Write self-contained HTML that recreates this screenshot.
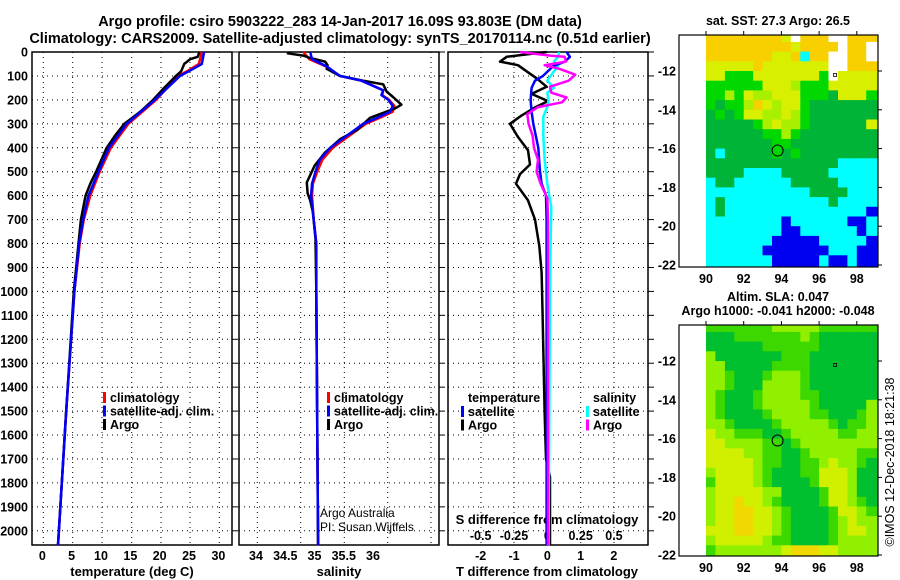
<!DOCTYPE html>
<html><head><meta charset="utf-8">
<style>
html,body{margin:0;padding:0;background:#fff;}
svg{display:block;font-family:"Liberation Sans",Arial,sans-serif;}
.b{font-weight:bold;}
</style></head>
<body>
<svg id="chart" width="900" height="580" viewBox="0 0 900 580" xmlns="http://www.w3.org/2000/svg">
<text class="b" x="340" y="26" font-size="14.5" text-anchor="middle">Argo profile: csiro 5903222_283 14-Jan-2017 16.09S 93.803E (DM data)</text>
<text class="b" x="340" y="43" font-size="14.5" text-anchor="middle">Climatology: CARS2009. Satellite-adjusted climatology: synTS_20170114.nc (0.51d earlier)</text>
<g id="g"></g>
</svg>
<script>
// ---------- data ----------
const depthTicks=[0,100,200,300,400,500,600,700,800,900,1000,1100,1200,1300,1400,1500,1600,1700,1800,1900,2000];
const tempTicks=[0,5,10,15,20,25,30];
const salTicks=[34,34.5,35,35.5,36];
const tdiffTicks=[-2,-1,0,1,2];
const sdiffTicks=[-0.5,-0.25,0,0.25,0.5];
const sdiffTickLabels=["-0.5","-0.25","0","0.25","0.5"];
const lonTicks=[90,92,94,96,98];
const latTicks=[-12,-14,-16,-18,-20,-22];

const tArgoDepth=[0,20,30,50,80,100,150,200,250,300,350,400,450,500,550,600,700,800,900,1000,1500,2060];
const tArgo=[26.6,26.3,25.0,24.0,23.5,22.6,20.6,18.7,16.5,13.8,12.2,10.8,9.9,9.0,8.0,7.2,6.4,6.0,5.6,5.2,3.9,2.5];
const tClimDepth=[0,50,80,100,200,300,400,500,600,700,800,1000,1500,2060];
const tClim=[27.0,26.5,24.5,23.0,19.2,14.5,11.5,9.6,8.0,6.9,6.2,5.3,3.9,2.5];
const tSat=[27.4,27.0,24.8,23.3,19.0,14.2,11.2,9.4,7.7,6.8,6.1,5.3,3.9,2.5];

const sArgoDepth=[5,15,25,40,55,70,100,120,135,165,190,220,235,275,325,365,420,475,545,590,620,670,780,1000,2060];
const sArgo=[34.34,34.53,34.61,34.78,34.81,34.80,34.95,35.22,35.45,35.49,35.57,35.66,35.59,35.30,35.15,34.95,34.78,34.66,34.57,34.58,34.61,34.64,34.67,34.68,34.70];
const sClimDepth=[0,30,60,100,120,160,180,200,225,250,275,300,350,400,450,500,550,600,700,800,1000,2060];
const sSat=[34.61,34.63,34.80,34.95,35.20,35.45,35.43,35.51,35.56,35.53,35.38,35.22,35.03,34.84,34.72,34.67,34.63,34.62,34.65,34.68,34.68,34.70];
const sClim=[34.53,34.60,34.79,34.95,35.20,35.45,35.44,35.52,35.58,35.56,35.41,35.25,35.06,34.87,34.75,34.69,34.64,34.63,34.65,34.68,34.68,34.70];

const dTArgoDepth=[0,20,40,55,85,110,145,175,205,230,265,300,355,410,470,510,550,620,700,810,920,1100,1500,1700,1775,1985,2060];
const dTArgo=[-0.02,-1.22,-1.42,-0.88,-0.58,-0.32,-0.02,-0.47,0.02,-0.35,-0.77,-1.12,-0.88,-0.58,-0.52,-0.82,-0.94,-0.58,-0.37,-0.24,-0.17,-0.14,-0.08,-0.04,0.08,0.08,0.08];
const dTSatDepth=[0,20,40,60,100,120,150,200,250,300,400,500,550,600,700,1000,2060];
const dTSat=[0.58,0.68,0.53,0.17,-0.13,-0.37,-0.47,-0.5,-0.47,-0.42,-0.27,-0.22,-0.17,-0.04,-0.02,-0.02,-0.02];
const dSArgoDepth=[0,15,20,40,55,70,95,120,145,170,190,210,230,260,300,350,400,450,500,550,610,700,2060];
const dSArgo=[-0.205,0.02,0.13,0.14,-0.02,0.09,0.21,0.16,0.02,0.03,0.145,0.11,-0.07,-0.15,-0.14,-0.11,-0.10,-0.07,-0.08,-0.05,0.0,0.005,0.005];
const dSSatDepth=[0,20,40,60,80,120,150,170,200,230,270,350,450,550,650,800,1000,2060];
const dSSat=[0.09,0.08,0.05,0.08,0.05,0.0,0.05,0.0,0.01,0.0,-0.03,-0.03,-0.02,0.0,0.03,0.025,0.02,0.01];

const sstRows=[
"YYYYYYYYywYYYwwYYY","YYYYYYYYYyYYYYwYYw","YYYYYYYyyYcYYwwYYw","yyyyyYyyyyyyywwYYY",
"yygggyyyyyyygwyyyy","ggggggyyylgggyyyyy","gglgyllyyygggGyyyg","gGgglYylyygGGGGGGG",
"GgGgyyllylgGGGGGGG","GGGGGglyllgGGGGGGy","GGGGGGgglgGGGGGGGG","GGGGGGGggGGGGGGGGG",
"GcGGGGGgGgGGGGGGGG","GGGGGGGGGGGGGGcccc","GGGGccccGGGGGccccc","cGGccccccGGGGGcccc",
"cccccccccccGGGGccc","cGcccccccccccGcccc","cGcccccccccccccccb","ccccccccbccccccbbc",
"ccccccccbbccccccbc","cccccccbbbbbcccccb","ccccccbbbbbbbcccbb","cccccccbbbbbcbbcbb"];
const slaRows=[
"ggggggglllllgggggg","GGGggggggglgGGGGGG","GGGGGGggggggGGGGGG","lGGGGGGGgggGGGGGGG",
"llGGGGGggggGGGGGGG","llgGGGglllgGGGGGGG","llgGGGllllgGGGGGGG","lgGGGgllllggGGGGGG",
"lgGGGglllllgGGGGGl","lgGGGGgllllggGGGgl","llgGGGGglllllgGggl","yllgggGGglllllggll",
"yyllllggGgllllllll","yyyyllggGGglllllgg","yyyyylggGGgglyllgG","lyyyylgGGGggyyylGG",
"gyyyylgGGGGgyyylGG","lyyyyyllGGGGgyylGG","lyyoyylgGGGGgyylgG","lyyooyylgGGGGgyylg",
"lyyooyylgGGGGglyll","yyyooyylgGGGGglyyl","lyyyyylggGGGGgllll","glllllllyoooyyllll"];
const floatLon=93.8, floatLat=-16.1;

// ---------- helpers ----------
const NS="http://www.w3.org/2000/svg";
const G=document.getElementById('g');
function mk(tag,attrs,txt){const e=document.createElementNS(NS,tag);for(const k in attrs)e.setAttribute(k,attrs[k]);if(txt!==undefined)e.textContent=txt;G.appendChild(e);return e;}
const TOP=52, BOT=545, PXM=0.2394;
const yD=d=>TOP+d*PXM;
const xT=t=>43.3+t*5.87;
const xS=s=>257.3+(s-34)*86.8;
const xSlab=s=>256+(s-34)*58.5;
const xDT=v=>547.3+v*33.3;
const xDS=v=>547.3+v*133.3;
const panels=[{l:32,r:232,name:'temperature-panel'},{l:239,r:439,name:'salinity-panel'},{l:448,r:648,name:'difference-panel'}];
const gridX=[[43.3,72.7,102,131.7,161,190,219.3],[257.3,300.7,344.3,387.7,431],[481,514,547.3,580.7,614]];

panels.forEach((p,i)=>{
  const fr=mk('rect',{x:p.l,y:TOP,width:p.r-p.l,height:BOT-TOP,fill:'none',stroke:'#000','stroke-width':1.5});
  
  
  depthTicks.forEach(d=>{
    const ln=mk('line',{x1:p.l,x2:p.r,y1:yD(d),y2:yD(d),stroke:'#000','stroke-dasharray':'1 4','stroke-width':1});
    
    
    const tk=mk('line',{x1:p.r,x2:p.r+6,y1:yD(d),y2:yD(d),stroke:'#000','stroke-width':1});
    
    
  });
  gridX[i].forEach(x=>{
    const ln=mk('line',{x1:x,x2:x,y1:TOP,y2:BOT,stroke:'#000','stroke-dasharray':'1 4','stroke-width':1});
    
    
  });
});
depthTicks.forEach(d=>{
  const t=mk('text',{x:28,y:yD(d)+4.5,'font-size':12.5,'font-weight':'bold','text-anchor':'end'},String(d));
  
  
});
tempTicks.forEach(v=>{const t=mk('text',{x:xT(v)-1,y:560,'font-size':12.5,'font-weight':'bold','text-anchor':'middle'},String(v));
  
  });
salTicks.forEach(v=>{const t=mk('text',{x:xSlab(v),y:560,'font-size':12.5,'font-weight':'bold','text-anchor':'middle'},String(v));
  
  });
tdiffTicks.forEach(v=>{const t=mk('text',{x:xDT(v),y:560,'font-size':12.5,'font-weight':'bold','text-anchor':'middle'},String(v));
  
  });
sdiffTicks.forEach((v,i)=>{const t=mk('text',{x:xDS(v),y:540,'font-size':12.5,'font-weight':'bold','text-anchor':'middle'},sdiffTickLabels[i]);
  
  });
[[132,'temperature (deg C)','temperature-axis-title'],[339,'salinity','salinity-axis-title'],[547,'T difference from climatology','t-diff-axis-title'],].forEach(a=>{
  const t=mk('text',{x:a[0],y:576,'font-size':13,'font-weight':'bold','text-anchor':'middle'},a[1]);
  
  });
{const t=mk('text',{x:547,y:524,'font-size':13,'font-weight':'bold','text-anchor':'middle'},'S difference from climatology');
 
 }
{const t=mk('text',{x:320,y:517,'font-size':12},'Argo Australia');
 
 
 const t2=mk('text',{x:320,y:531,'font-size':12},'PI: Susan Wijffels');
 
 }

function line(xs,ds,xf,color,name,w){
  const pts=xs.map((v,i)=>xf(v).toFixed(1)+','+yD(ds[i]).toFixed(1)).join(' ');
  const e=mk('polyline',{points:pts,fill:'none',stroke:color,'stroke-width':w||2.5,'stroke-linejoin':'round'});
  
  
}
line(tClim,tClimDepth,xT,'#ff0000','temperature-climatology-line');
line(tArgo,tArgoDepth,xT,'#000000','temperature-argo-line');
line(tSat,tClimDepth,xT,'#0000ff','temperature-satellite-line');
line(sClim,sClimDepth,xS,'#ff0000','salinity-climatology-line');
line(sArgo,sArgoDepth,xS,'#000000','salinity-argo-line');
line(sSat,sClimDepth,xS,'#0000ff','salinity-satellite-line');
line(dTArgo,dTArgoDepth,xDT,'#000000','t-diff-argo-line');
line(dSSat,dSSatDepth,xDS,'#00ffff','s-diff-satellite-line');
line(dTSat,dTSatDepth,xDT,'#0000ff','t-diff-satellite-line');
line(dSArgo,dSArgoDepth,xDS,'#ff00ff','s-diff-argo-line');

function legend(x,y,items,name){
  items.forEach((it,i)=>{
    const m=mk('rect',{x:x-7,y:y+i*13.5-10,width:3,height:11,fill:it[1]});
    
    
    const t=mk('text',{x:x,y:y+i*13.5,'font-size':12.5,'font-weight':'bold'},it[0]);
    
    
  });
}
legend(110,402,[['climatology','#ff0000'],['satellite-adj. clim.','#0000ff'],['Argo','#000000']],'temperature-legend');
legend(334,402,[['climatology','#ff0000'],['satellite-adj. clim.','#0000ff'],['Argo','#000000']],'salinity-legend');
{const t=mk('text',{x:468,y:402,'font-size':12.5,'font-weight':'bold'},'temperature');
 
 
 const t2=mk('text',{x:593,y:402,'font-size':12.5,'font-weight':'bold'},'salinity');
 
 }
legend(468,416,[['satellite','#0000ff'],['Argo','#000000']],'diff-temperature-legend');
legend(593,416,[['satellite','#00ffff'],['Argo','#ff00ff']],'diff-salinity-legend');

// ---------- maps ----------
const sstCol={Y:'#f8d000',y:'#d8f000',l:'#a8f000',g:'#00d800',G:'#00b438',c:'#00ffff',b:'#0000f0',w:'#ffffff'};
const slaCol={G:'#00c030',g:'#3cd800',l:'#90f000',y:'#d0f000',o:'#f0d800'};
function map(top,bot,rows,cols,name,latTop){
  const L=679,R=878;
  const xL=lon=>706+(lon-90)*18.85;
  const yL=lat=>top+36+(-12-lat)*19.4;
  const cid='clip-'+name;
  const defs=mk('clipPath',{id:cid});
  const cr=document.createElementNS(NS,'rect');
  cr.setAttribute('x',L);cr.setAttribute('y',top);cr.setAttribute('width',R-L);cr.setAttribute('height',bot-top);
  defs.appendChild(cr);
  const grp=mk('g',{'clip-path':'url(#'+cid+')'});
  
  
  rows.forEach((row,ri)=>{
    const lat0=-10-ri*0.5;
    for(let ci=0;ci<row.length;ci++){
      const lon0=90+ci*0.5;
      const x0=xL(lon0), x1=xL(lon0+0.5)+(ci==row.length-1?10:0);
      const y0=yL(lat0)-(ri==0?10:0), y1=yL(lat0-0.5)+(ri==rows.length-1?10:0);
      const r=document.createElementNS(NS,'rect');
      r.setAttribute('x',x0.toFixed(1));r.setAttribute('y',y0.toFixed(1));
      r.setAttribute('width',(x1-x0+0.6).toFixed(1));r.setAttribute('height',(y1-y0+0.6).toFixed(1));
      r.setAttribute('fill',cols[row[ci]]);
      
      
      grp.appendChild(r);
    }
  });
  const fr=mk('rect',{x:L,y:top,width:R-L,height:bot-top,fill:'none',stroke:'#000','stroke-width':1.2});
  
  
  const c=mk('circle',{cx:xL(floatLon),cy:yL(floatLat),r:5.5,fill:'none',stroke:'#000','stroke-width':1});
  
  
  const d=mk('rect',{x:xL(96.85)-1.5,y:yL(-12.2)-1.5,width:3,height:3,fill:'none',stroke:'#000','stroke-width':0.8});
  
  
  lonTicks.forEach(v=>{
    const t=mk('text',{x:xL(v),y:bot+16,'font-size':12.5,'font-weight':'bold','text-anchor':'middle'},String(v));
    
    
    const tk=mk('line',{x1:xL(v),x2:xL(v),y1:top-4,y2:top,stroke:'#000'});
    
    
  });
  latTicks.forEach(v=>{
    const t=mk('text',{x:676,y:yL(v)+4.5,'font-size':12.5,'font-weight':'bold','text-anchor':'end'},String(v));
    
    
    const tk=mk('line',{x1:R,x2:R+4,y1:yL(v),y2:yL(v),stroke:'#000'});
    
    
  });
}
map(35,267,sstRows,sstCol,'sst-map');
map(325,556,slaRows,slaCol,'sla-map');
{const t=mk('text',{x:778,y:25,'font-size':12.5,'font-weight':'bold','text-anchor':'middle'},'sat. SST: 27.3 Argo: 26.5');
 
 
 const t2=mk('text',{x:778,y:301,'font-size':12.5,'font-weight':'bold','text-anchor':'middle'},'Altim. SLA: 0.047');
 
 
 const t3=mk('text',{x:778,y:315,'font-size':12.5,'font-weight':'bold','text-anchor':'middle'},'Argo h1000: -0.041 h2000: -0.048');
 
 
 const t4=mk('text',{x:0,y:0,'font-size':12.5,'text-anchor':'middle',transform:'translate(894,462) rotate(-90)'},'©IMOS 12-Dec-2018 18:21:38');
 
 }
</script>
</body></html>
